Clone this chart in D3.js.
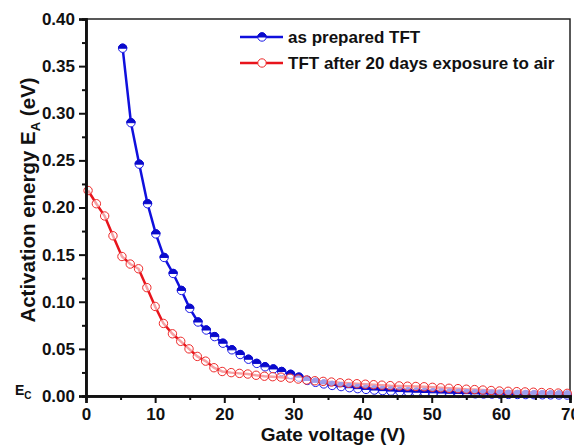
<!DOCTYPE html>
<html>
<head>
<meta charset="utf-8">
<script src="https://cdn.jsdelivr.net/npm/d3@7"></script>
<style>
  body { margin: 0; background: #fff; }
  svg { display: block; font-family: Arial, "Liberation Sans", sans-serif; font-weight: bold; }
</style>
</head>
<body>
<svg width="574" height="448"></svg>
<script>

// as prepared TFT
var blueX = [5.3, 6.5, 7.7, 8.9, 10.1, 11.3, 12.6, 13.8, 15.0, 16.2, 17.4, 18.6, 19.8, 21.1,
  22.3, 23.5, 24.7, 25.9, 27.1, 28.3, 29.6, 30.8, 32.0, 33.2, 34.4, 35.6, 36.9, 38.1,
  39.3, 40.5, 41.7, 42.9, 44.1, 45.4, 46.6, 47.8, 49.0, 50.2, 51.4, 52.6, 53.9, 55.1,
  56.3, 57.5, 58.7, 59.9, 61.1, 62.4, 63.6, 64.8, 66.0, 67.2, 68.4, 69.6];
var blueY = [0.369, 0.290, 0.246, 0.204, 0.172, 0.147, 0.130, 0.112, 0.093, 0.0785, 0.070,
  0.063, 0.056, 0.049, 0.044, 0.039, 0.0346, 0.031, 0.0287, 0.026, 0.023, 0.020, 0.0165,
  0.0145, 0.0128, 0.0112, 0.010, 0.0088, 0.0078, 0.007, 0.0063, 0.0057, 0.0052, 0.0047,
  0.0043, 0.004, 0.0037, 0.0034, 0.0031, 0.0029, 0.0027, 0.0025, 0.0023, 0.0021, 0.002,
  0.0019, 0.0017, 0.0016, 0.0015, 0.0014, 0.0013, 0.0012, 0.0011, 0.001];

// TFT after 20 days exposure to air
var redX = [0.3, 1.5, 2.7, 3.9, 5.2, 6.4, 7.6, 8.8, 10.0, 11.2, 12.5, 13.7, 14.9, 16.1,
  17.3, 18.5, 19.7, 21.0, 22.2, 23.4, 24.6, 25.8, 27.0, 28.2, 29.5, 30.7, 31.9, 33.1,
  34.3, 35.5, 36.75, 37.97, 39.18, 40.4, 41.6, 42.8, 44.0, 45.3, 46.5, 47.7, 48.9, 50.1,
  51.3, 52.5, 53.8, 55.0, 56.2, 57.4, 58.6, 59.8, 61.05, 62.3, 63.5, 64.7, 65.9, 67.1,
  68.3, 69.6];
var redY = [0.218, 0.204, 0.191, 0.170, 0.148, 0.140, 0.135, 0.115, 0.095, 0.077, 0.066,
  0.058, 0.050, 0.042, 0.037, 0.030, 0.026, 0.0248, 0.024, 0.0233, 0.022, 0.021, 0.0205,
  0.020, 0.019, 0.018, 0.017, 0.0162, 0.0155, 0.0148, 0.014, 0.0135, 0.013, 0.0125,
  0.012, 0.0115, 0.011, 0.0107, 0.0104, 0.0101, 0.0098, 0.0092, 0.0087, 0.0082, 0.0078,
  0.0072, 0.0068, 0.0063, 0.0058, 0.0053, 0.005, 0.0046, 0.0043, 0.004, 0.0037, 0.0034,
  0.0031, 0.0028];

var xTicks = [0, 10, 20, 30, 40, 50, 60, 70];
var yTicks = [0, 0.05, 0.10, 0.15, 0.20, 0.25, 0.30, 0.35, 0.40];
var seriesNames = ["as prepared TFT", "TFT after 20 days exposure to air"];

var svg = d3.select("svg");

var x = d3.scaleLinear().domain([0, 70]).range([86, 570]);
var y = d3.scaleLinear().domain([0, 0.4]).range([396, 19]);

var blue = blueX.map(function(d, i) { return [d, blueY[i]]; });
var red = redX.map(function(d, i) { return [d, redY[i]]; });

var line = d3.line()
    .x(function(d) { return x(d[0]); })
    .y(function(d) { return y(d[1]); });

// frame (top + right)
svg.append("rect")
    .attr("x", x(0)).attr("y", y(0.4))
    .attr("width", x(70) - x(0)).attr("height", y(0) - y(0.4))
    .attr("fill", "none").attr("stroke", "#222").attr("stroke-width", 1.5);

var r = 4.2;

function halfMarker(sel, cx, cy) {
    var g = sel.append("g").attr("transform", "translate(" + cx + "," + cy + ")");
    g.append("circle").attr("r", r).attr("fill", "#fff").attr("stroke", "#1a1ae6").attr("stroke-width", 1);
    g.append("path")
      .attr("d", "M" + (-r) + ",0 A" + r + "," + r + " 0 0 1 " + r + ",0 Z")
      .attr("fill", "#0a0acc").attr("stroke", "#0a0acc").attr("stroke-width", 1);
}

// red series
svg.append("path").datum(red)
    .attr("d", line).attr("fill", "none")
    .attr("stroke", "#e8141c").attr("stroke-width", 2.5);

// blue series
svg.append("path").datum(blue)
    .attr("d", line).attr("fill", "none")
    .attr("stroke", "#1010dd").attr("stroke-width", 2.5);

var gb = svg.append("g");
blue.forEach(function(d) { halfMarker(gb, x(d[0]), y(d[1])); });

svg.append("g").selectAll("circle")
    .data(red)
    .enter()
    .append("circle")
    .attr("cx", function(d) { return x(d[0]); })
    .attr("cy", function(d) { return y(d[1]); })
    .attr("r", r)
    .attr("fill", "#fff")
    .attr("fill-opacity", 0.6)
    .attr("stroke", "#ee2a2a")
    .attr("stroke-width", 1);

// axes
var xAxis = svg.append("g")
    .attr("transform", "translate(0," + y(0) + ")")
    .call(d3.axisBottom(x).tickValues(xTicks).tickSize(7).tickPadding(5));
var xMinor = svg.append("g")
    .attr("transform", "translate(0," + y(0) + ")")
    .call(d3.axisBottom(x).tickValues(d3.range(5, 70, 10)).tickSize(4).tickFormat(""));

var yAxis = svg.append("g")
    .attr("transform", "translate(" + x(0) + ",0)")
    .call(d3.axisLeft(y).tickValues(yTicks).tickSize(7).tickPadding(4).tickFormat(d3.format(".2f")));
var yMinor = svg.append("g")
    .attr("transform", "translate(" + x(0) + ",0)")
    .call(d3.axisLeft(y).tickValues(d3.range(0.025, 0.4, 0.05)).tickSize(4).tickFormat(""));

[xAxis, xMinor, yAxis, yMinor].forEach(function(a) {
    a.select(".domain").attr("stroke", "#111").attr("stroke-width", 2.5);
    a.selectAll(".tick line").attr("stroke", "#111").attr("stroke-width", 2);
    a.selectAll("text").attr("fill", "#111")
      .style("font-family", "Arial, 'Liberation Sans', sans-serif")
      .style("font-weight", "bold").style("font-size", "17px");
});

// E_C label
var ec = svg.append("text").attr("x", 15).attr("y", 395)
    .attr("fill", "#111").style("font-size", "14px");
ec.append("tspan").text("E");
ec.append("tspan").attr("dy", 4).style("font-size", "10px").text("C");

// axis titles
svg.append("text")
    .attr("x", 333).attr("y", 441)
    .attr("text-anchor", "middle")
    .attr("fill", "#111")
    .style("font-size", "19px")
    .text("Gate voltage (V)");

var yt = svg.append("text")
    .attr("transform", "translate(35,200) rotate(-90)")
    .attr("text-anchor", "middle")
    .attr("fill", "#111")
    .style("font-size", "20.5px");
yt.append("tspan").text("Activation energy E");
yt.append("tspan").attr("dy", 5).style("font-size", "13px").text("A");
yt.append("tspan").attr("dy", -5).text(" (eV)");

// legend
var colors = ["#1010dd", "#e8141c"];
var legend = svg.append("g");
seriesNames.forEach(function(name, i) {
    var ly = 37 + i * 26;
    legend.append("line")
      .attr("x1", 240).attr("x2", 283).attr("y1", ly).attr("y2", ly)
      .attr("stroke", colors[i]).attr("stroke-width", 2.5);
    if (i === 0) {
        halfMarker(legend, 262, ly);
    } else {
        legend.append("circle").attr("cx", 262).attr("cy", ly).attr("r", r)
          .attr("fill", "#fff").attr("stroke", "#ee2a2a").attr("stroke-width", 1);
    }
    legend.append("text")
      .attr("x", 288).attr("y", ly + 6)
      .attr("fill", "#111")
      .style("font-size", "17px")
      .text(name);
});

</script>
</body>
</html>
